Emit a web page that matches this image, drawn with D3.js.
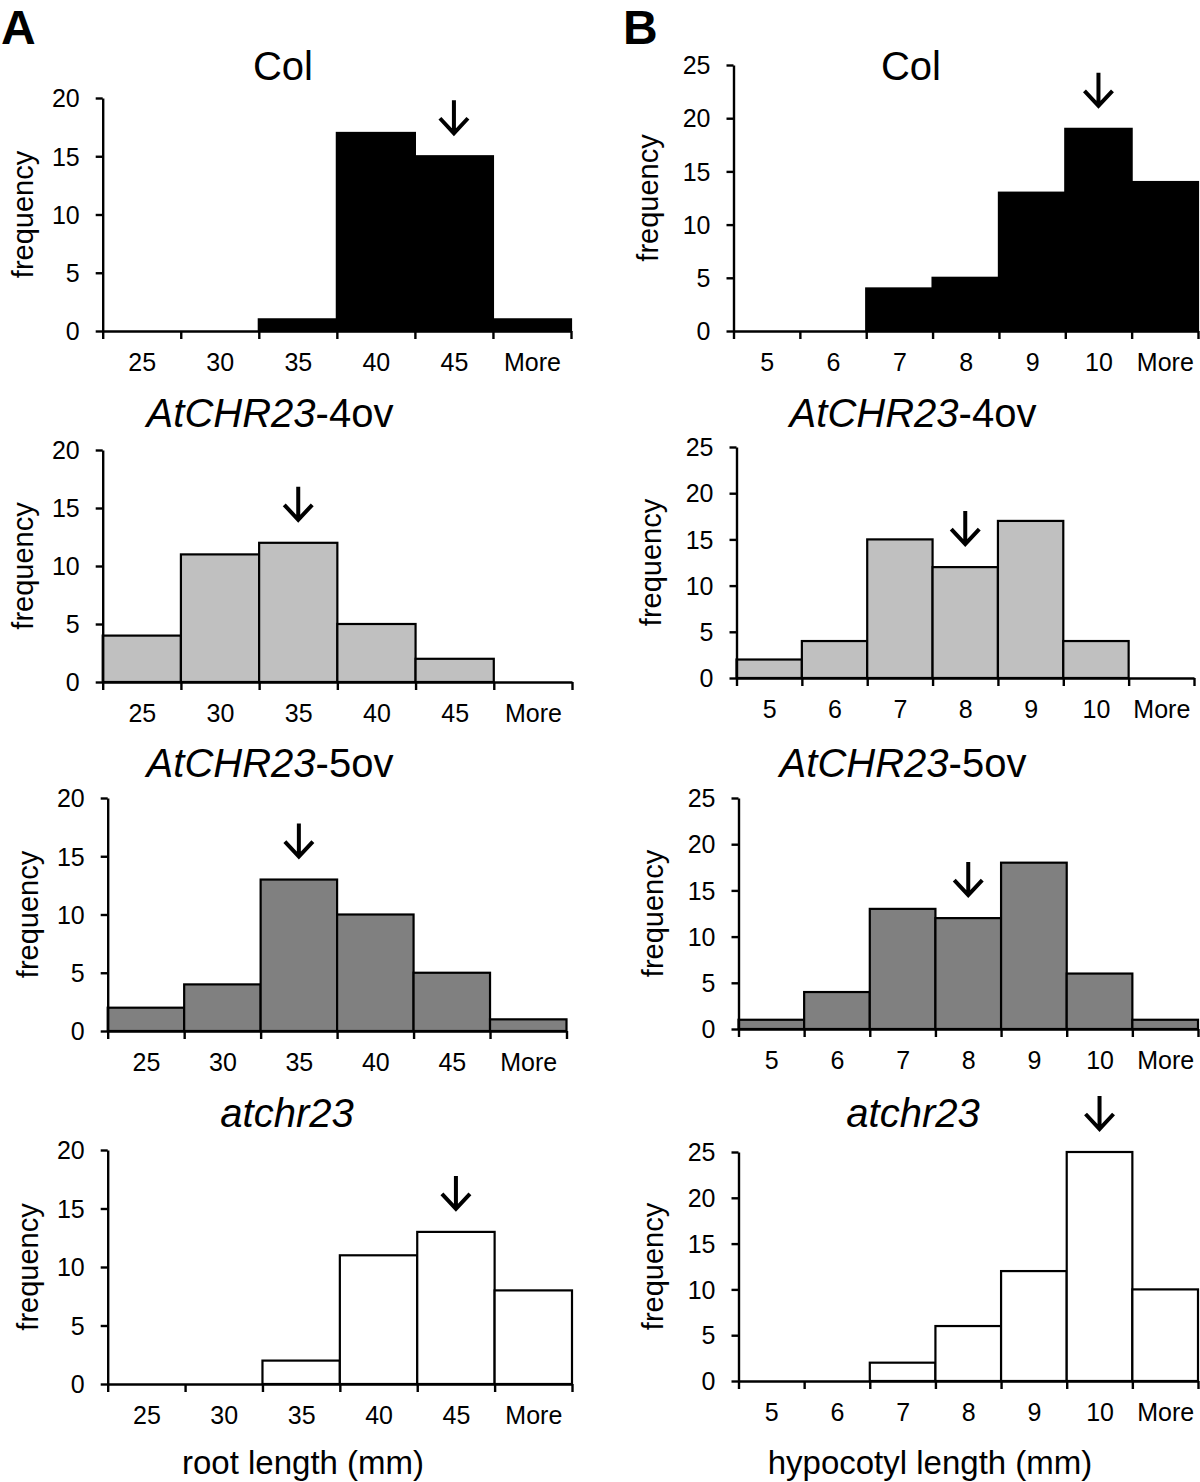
<!DOCTYPE html>
<html>
<head>
<meta charset="utf-8">
<script src="https://cdn.jsdelivr.net/npm/d3@7"></script>
<style>
  body { margin: 0; background: #fff; }
  svg { display: block; font-family: "Liberation Sans", Arial, Helvetica, sans-serif; }
</style>
</head>
<body>
<svg id="chart"></svg>
<script>
// Data
const rootBins = ["25", "30", "35", "40", "45", "More"];
const hypoBins = ["5", "6", "7", "8", "9", "10", "More"];

// root length frequencies (panel A)
const rootCol = [0, 0, 1, 17, 15, 1];
const root4ov = [4, 11, 12, 5, 2, 0];
const root5ov = [2, 4, 13, 10, 5, 1];
const rootMut = [0, 0, 2, 11, 13, 8];

// hypocotyl length frequencies (panel B)
const hypoCol = [0, 0, 4, 5, 13, 19, 14];
const hypo4ov = [2, 4, 15, 12, 17, 4, 0];
const hypo5ov = [1, 4, 13, 12, 18, 6, 1];
const hypoMut = [0, 0, 2, 6, 12, 25, 10];

// bin marked with an arrow (mean) in each panel
const rootArrowBins = ["45", "35", "35", "45"];
const hypoArrowBins = ["10", "8", "8", "10"];

const rootTicks = [0, 5, 10, 15, 20];
const hypoTicks = [0, 5, 10, 15, 20, 25];

// genotype titles: [text, italic?]
const titles = [
  [["Col", false]],
  [["AtCHR23", true], ["-4ov", false]],
  [["AtCHR23", true], ["-5ov", false]],
  [["atchr23", true]]
];

// Config
const width = 1200, height = 1482;
const fills = ["#000000", "#c0c0c0", "#808080", "#ffffff"];
const titleY = [66, 413, 763, 1113];

// plot frames per column: [left, right, top, bottom(zero line)]
const columns = [
  {
    letter: "A", letterX: 1, titleX: [283, 270, 270, 287], yTitleOffset: 80,
    xLabel: "root length (mm)", xLabelX: 303,
    bins: rootBins, series: [rootCol, root4ov, root5ov, rootMut],
    arrows: rootArrowBins, ticks: rootTicks,
    frames: [[102.7, 571, 98, 331], [102.7, 572, 450, 682], [107.7, 566.5, 798, 1031], [107.7, 572, 1150, 1384]]
  },
  {
    letter: "B", letterX: 623, titleX: [911, 913, 903, 913], yTitleOffset: 86,
    xLabel: "hypocotyl length (mm)", xLabelX: 930,
    bins: hypoBins, series: [hypoCol, hypo4ov, hypo5ov, hypoMut],
    arrows: hypoArrowBins, ticks: hypoTicks,
    frames: [[733.5, 1198, 65, 331], [736.5, 1194, 447, 678], [738.5, 1198, 798, 1029], [738.5, 1198, 1152, 1381]]
  }
];

const svg = d3.select("#chart")
  .attr("width", width)
  .attr("height", height)
  .attr("viewBox", [0, 0, width, height]);

svg.append("rect").attr("width", width).attr("height", height).attr("fill", "#fff");

columns.forEach(col => {
  // Panel letter
  svg.append("text")
    .attr("x", col.letterX)
    .attr("y", 44)
    .attr("font-size", 48)
    .attr("font-weight", "bold")
    .text(col.letter);

  col.series.forEach((values, row) => {
    const [left, right, top, bottom] = col.frames[row];
    const n = col.bins.length;
    const yMax = d3.max(col.ticks);

    const x = d3.scaleLinear().domain([0, n]).range([left, right]);
    const y = d3.scaleLinear().domain([0, yMax]).range([bottom, top]);

    const g = svg.append("g");

    // Title
    const title = g.append("text")
      .attr("x", col.titleX[row])
      .attr("y", titleY[row])
      .attr("dy", "0.35em")
      .attr("text-anchor", "middle")
      .attr("font-size", 40)
      .attr("fill", "#000");
    titles[row].forEach(([t, it]) => {
      title.append("tspan").attr("font-style", it ? "italic" : "normal").text(t);
    });

    // Bars
    const binData = values.map((v, i) => ({ i, v })).filter(d => d.v > 0);
    g.selectAll(".bar")
      .data(binData)
      .join("rect")
      .attr("class", "bar")
      .attr("x", d => x(d.i))
      .attr("width", d => x(d.i + 1) - x(d.i))
      .attr("y", d => y(d.v))
      .attr("height", d => y(0) - y(d.v))
      .attr("fill", fills[row])
      .attr("stroke", "#000")
      .attr("stroke-width", 2.2);

    // X axis: ticks at bin edges
    const xAxis = g.append("g")
      .attr("transform", `translate(0,${bottom})`)
      .call(d3.axisBottom(x).tickValues(d3.range(n + 1)).tickFormat("").tickSize(8).tickSizeOuter(0));

    // X labels: centred in bins
    const xLab = g.append("g")
      .attr("transform", `translate(0,${bottom})`)
      .call(d3.axisBottom(x)
        .tickValues(d3.range(n).map(i => i + 0.5))
        .tickFormat((d, i) => col.bins[i])
        .tickSize(0)
        .tickPadding(22));
    xLab.select(".domain").remove();

    // Y axis
    const yAxis = g.append("g")
      .attr("transform", `translate(${left},0)`)
      .call(d3.axisLeft(y).tickValues(col.ticks).tickSize(7).tickSizeOuter(0).tickPadding(16));

    [xAxis, xLab, yAxis].forEach(a => {
      a.selectAll(".domain, .tick line").attr("stroke", "#000").attr("stroke-width", 2.4);
      a.selectAll("text").attr("font-size", 25).attr("fill", "#000")
        .attr("font-family", "'Liberation Sans', Arial, sans-serif");
    });
    yAxis.selectAll("text").attr("dy", "0.35em");

    // Y axis title
    g.append("text")
      .attr("transform", `translate(${left - col.yTitleOffset},${(top + bottom) / 2}) rotate(-90)`)
      .attr("dy", "0.35em")
      .attr("text-anchor", "middle")
      .attr("font-size", 29)
      .text("frequency");

    // Arrow above the marked bin
    const ai = col.bins.indexOf(col.arrows[row]);
    const ax = x(ai + 0.5);
    const aBottom = y(values[ai]) - 23;
    const aTop = aBottom - 33;
    g.append("path")
      .attr("d", `M${ax},${aTop}L${ax},${aBottom - 2}M${ax - 14},${aBottom - 15}L${ax},${aBottom}L${ax + 14},${aBottom - 15}`)
      .attr("fill", "none")
      .attr("stroke", "#000")
      .attr("stroke-width", 4)
      .attr("stroke-linecap", "butt")
      .attr("stroke-linejoin", "miter");

    // X axis title on bottom row
    if (row === col.series.length - 1) {
      svg.append("text")
        .attr("x", col.xLabelX)
        .attr("y", 1462)
        .attr("dy", "0.35em")
        .attr("text-anchor", "middle")
        .attr("font-size", 33)
        .text(col.xLabel);
    }
  });
});
</script>
</body>
</html>
